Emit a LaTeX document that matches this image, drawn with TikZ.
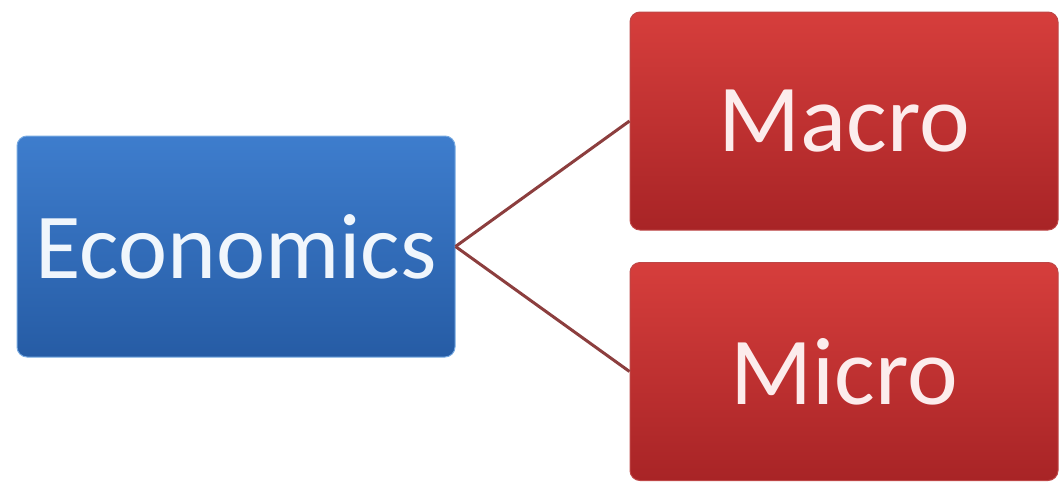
\documentclass[tikz,border=0pt]{standalone}
\usepackage{fontspec}
\setmainfont{Carlito}
\definecolor{bluetop}{RGB}{62,125,205}
\definecolor{bluebot}{RGB}{38,92,165}
\definecolor{blueedge}{RGB}{120,170,225}
\definecolor{redtop}{RGB}{214,62,60}
\definecolor{redbot}{RGB}{168,36,38}
\definecolor{rededge}{RGB}{190,70,70}
\definecolor{linkcol}{RGB}{140,62,62}
\definecolor{txtcol}{RGB}{240,246,252}
\definecolor{txtred}{RGB}{252,236,236}
\tikzset{
  box/.style={rounded corners=10pt, minimum height=218pt, inner sep=0pt,
    font=\fontsize{93}{100}\selectfont, text=txtcol},
  bluebox/.style={box, top color=bluetop, bottom color=bluebot, draw=blueedge, line width=1pt,
    minimum width=438pt, minimum height=221pt},
  redbox/.style={box, top color=redtop, bottom color=redbot, draw=rededge, line width=1pt,
    minimum width=428pt, text=txtred, font=\fontsize{96}{100}\selectfont},
  link/.style={draw=linkcol, line width=3pt}
}
\begin{document}
\begin{tikzpicture}[x=1pt,y=-1pt]
\useasboundingbox (0,0) rectangle (1061,485);
\node[bluebox] (eco) at (236,246.5) {Economics};
\node[redbox] (macro) at (844,121) {Macro};
\node[redbox] (micro) at (844,371.5) {Micro};
\draw[link] (eco.east) -- (macro.west);
\draw[link] (eco.east) -- (micro.west);
\end{tikzpicture}
\end{document}
